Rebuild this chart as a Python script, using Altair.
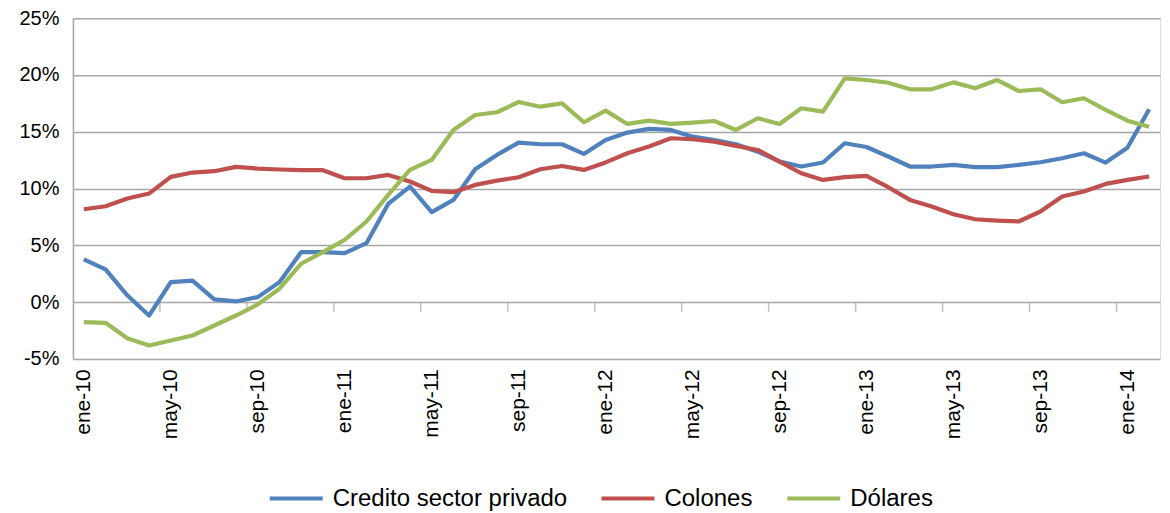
import altair as alt
import pandas as pd

# Monthly categories ene-10 .. feb-14
meses_abbr = ["ene", "feb", "mar", "abr", "may", "jun", "jul", "ago", "sep", "oct", "nov", "dic"]
meses = [f"{m}-{y:02d}" for y in range(10, 15) for m in meses_abbr][:50]

credito = [3.76, 2.88, 0.60, -1.18, 1.76, 1.90, 0.24, 0.06, 0.44, 1.76, 4.41, 4.41,
           4.31, 5.19, 8.65, 10.18, 7.92, 9.00, 11.70, 12.96, 14.05, 13.90, 13.90, 13.05,
           14.28, 14.93, 15.25, 15.16, 14.57, 14.28, 13.90, 13.25, 12.38, 11.94, 12.29, 13.99,
           13.66, 12.82, 11.94, 11.94, 12.08, 11.88, 11.88, 12.08, 12.32, 12.67, 13.11, 12.29, 13.60, 16.98]
colones = [8.18, 8.44, 9.12, 9.56, 11.03, 11.41, 11.53, 11.91, 11.76, 11.68, 11.62, 11.62,
           10.91, 10.91, 11.20, 10.62, 9.79, 9.68, 10.32, 10.70, 11.00, 11.70, 11.99, 11.64,
           12.30, 13.11, 13.70, 14.43, 14.34, 14.13, 13.75, 13.40, 12.38, 11.35, 10.76, 11.00,
           11.11, 10.12, 9.00, 8.42, 7.74, 7.30, 7.18, 7.10, 7.98, 9.30, 9.74, 10.41, 10.76, 11.06]
dolares = [-1.76, -1.82, -3.18, -3.82, -3.38, -2.94, -2.06, -1.18, -0.20, 1.18, 3.38, 4.41,
           5.48, 7.10, 9.44, 11.64, 12.52, 15.16, 16.48, 16.72, 17.62, 17.21, 17.50, 15.84,
           16.86, 15.69, 15.98, 15.69, 15.81, 15.95, 15.16, 16.19, 15.69, 17.07, 16.77, 19.71,
           19.56, 19.32, 18.74, 18.74, 19.35, 18.83, 19.56, 18.59, 18.74, 17.60, 17.95, 16.92, 15.98, 15.45]

series_names = ["Credito sector privado", "Colones", "Dólares"]
series_colors = ["#4F81BD", "#C0504D", "#9BBB59"]
y_ticks = [-5, 0, 5, 10, 15, 20, 25]
x_label_values = meses[::4]

rows = []
for name, vals in zip(series_names, [credito, colones, dolares]):
    for m, v in zip(meses, vals):
        rows.append({"mes": m, "valor": v, "serie": name})
df = pd.DataFrame(rows)
ticks_df = pd.DataFrame({"mes": x_label_values[1:]})

W = 1088
H = 341
step = W / len(meses)
FONT = "Liberation Sans"

xscale = alt.Scale(type="point", padding=0.5, domain=meses)
yscale = alt.Scale(domain=[-5, 25], nice=False)

lines = alt.Chart(df).mark_line(strokeWidth=4.2, strokeJoin="round").encode(
    x=alt.X("mes:N", sort=meses, scale=xscale, title=None,
            axis=alt.Axis(values=x_label_values, labelAngle=-90, ticks=False, domain=False,
                          grid=False, labelFontSize=21, labelColor="#000000", labelPadding=10,
                          labelFont=FONT)),
    y=alt.Y("valor:Q", scale=yscale, title=None,
            axis=alt.Axis(values=y_ticks, labelExpr="datum.value + '%'", grid=True,
                          gridColor="#a6a6a6", gridWidth=1.5, ticks=False, domain=True,
                          domainColor="#a6a6a6", domainWidth=1.5, labelFontSize=20,
                          labelColor="#000000", labelPadding=14, labelFont=FONT)),
    color=alt.Color("serie:N", sort=series_names,
                    scale=alt.Scale(domain=series_names, range=series_colors),
                    legend=alt.Legend(title=None, orient="none", direction="horizontal",
                                      legendX=195, legendY=452, symbolType="stroke",
                                      symbolSize=2809, symbolStrokeWidth=4,
                                      labelFontSize=24, labelFont=FONT, labelColor="#000000",
                                      labelLimit=500, columnPadding=26, labelOffset=8)),
)

tick_marks = alt.Chart(ticks_df).mark_tick(
    orient="vertical", size=10, thickness=1.5, color="#a6a6a6",
    xOffset=-step / 2, yOffset=5
).encode(
    x=alt.X("mes:N", scale=xscale),
    y=alt.datum(0),
)

chart = alt.layer(tick_marks, lines).properties(
    width=W, height=H,
    padding={"left": 10, "top": 0, "right": 2, "bottom": 0},
).configure_view(stroke=None).configure(font=FONT)

chart.save("out.html", embed_options={"renderer": "svg", "actions": False})
